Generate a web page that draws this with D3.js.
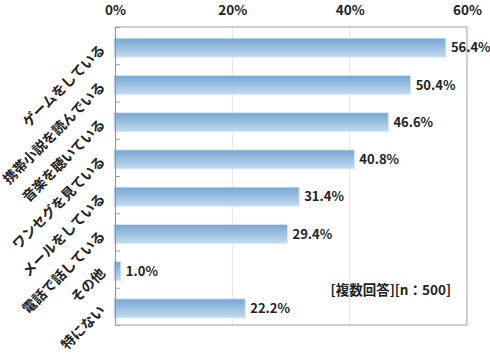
<!DOCTYPE html>
<html>
<head>
<meta charset="utf-8">
<script src="https://cdn.jsdelivr.net/npm/d3@7"></script>
<style>
  body { margin: 0; background: #fff; }
  text { font-family: "Noto Sans CJK JP", "Noto Sans", sans-serif; }
</style>
</head>
<body>
<div id="chart"></div>
<script>
const categories = ['ゲームをしている', '携帯小説を読んでいる', '音楽を聴いている', 'ワンセグを見ている',
  'メールをしている', '電話で話している', 'その他', '特にない'];
const values = [56.4, 50.4, 46.6, 40.8, 31.4, 29.4, 1.0, 22.2];
const ticks = [0, 20, 40, 60];
const note = '[複数回答][n：500]';

const width = 490, height = 355;
const margin = { top: 27, right: 23, bottom: 30, left: 115 };

const svg = d3.select('#chart').append('svg')
  .attr('width', width)
  .attr('height', height);

const grad = svg.append('defs').append('linearGradient')
  .attr('id', 'barGrad')
  .attr('x1', 0).attr('y1', 0).attr('x2', 0).attr('y2', 1);
grad.append('stop').attr('offset', '0%').attr('stop-color', '#76a6d3');
grad.append('stop').attr('offset', '100%').attr('stop-color', '#c3daef');

const x = d3.scaleLinear()
  .domain([0, 60])
  .range([margin.left, width - margin.right]);

const y = d3.scaleBand()
  .domain(categories)
  .range([margin.top, height - margin.bottom]);

const g = svg.append('g');

// gridlines
g.selectAll('.grid')
  .data(ticks.slice(1, -1))
  .enter().append('line')
  .attr('class', 'grid')
  .attr('x1', (d) => x(d)).attr('x2', (d) => x(d))
  .attr('y1', margin.top).attr('y2', height - margin.bottom)
  .attr('stroke', '#e3e3e3');

// frame (right + top edge of the plot)
g.append('path')
  .attr('d', 'M' + x(0) + ',' + margin.top + 'H' + x(60) + 'V' + (height - margin.bottom) + 'H' + x(0))
  .attr('fill', 'none')
  .attr('stroke', '#a0a0a0');

// top axis labels
svg.append('g')
  .call(d3.axisTop(x).tickValues(ticks).tickFormat((d) => d + '%').tickSize(0))
  .call((a) => a.select('.domain').remove())
  .selectAll('text')
  .attr('y', 15)
  .attr('font-size', 13.5)
  .attr('font-weight', 'bold')
  .attr('fill', '#222');

// bars
const barH = 19;
g.selectAll('.bar')
  .data(values)
  .enter().append('rect')
  .attr('class', 'bar')
  .attr('x', x(0) - 1)
  .attr('y', (d, i) => y(categories[i]) + y.bandwidth() / 2 - barH / 2 + 2)
  .attr('width', (d) => x(d) - x(0) + 1)
  .attr('height', barH)
  .attr('fill', 'url(#barGrad)')
  .attr('stroke', '#d9e8f5')
  .attr('stroke-width', 1);

// left axis with inward ticks
svg.append('g')
  .attr('transform', 'translate(' + x(0) + ',0)')
  .call(d3.axisRight(d3.scaleLinear().domain([0, 8]).range([margin.top, height - margin.bottom]))
    .ticks(8).tickSize(5).tickFormat(''))
  .call((a) => a.select('.domain').attr('stroke', '#909090'))
  .call((a) => a.selectAll('.tick line').attr('stroke', '#a0a0a0'));

// value labels
g.selectAll('.val')
  .data(values)
  .enter().append('text')
  .attr('class', 'val')
  .attr('x', (d) => x(d) + 5)
  .attr('y', (d, i) => y(categories[i]) + y.bandwidth() / 2 + 2)
  .attr('dy', '0.36em')
  .attr('font-size', 13)
  .attr('font-weight', 'bold')
  .attr('fill', '#222')
  .text((d) => d.toFixed(1) + '%');

// category labels, rotated
g.selectAll('.cat')
  .data(categories)
  .enter().append('text')
  .attr('class', 'cat')
  .attr('transform', (d) => 'translate(' + (x(0) - 9) + ',' + (y(d) + y.bandwidth() / 2 + 5) + ') rotate(-45)')
  .attr('text-anchor', 'end')
  .attr('font-size', 13.8)
  .attr('font-weight', 'bold')
  .attr('fill', '#222')
  .text((d) => d);

// note
svg.append('text')
  .attr('x', x(60) - 16)
  .attr('y', 295)
  .attr('text-anchor', 'end')
  .attr('font-size', 13.5)
  .attr('font-weight', 'bold')
  .attr('fill', '#222')
  .text(note);
</script>
</body>
</html>
